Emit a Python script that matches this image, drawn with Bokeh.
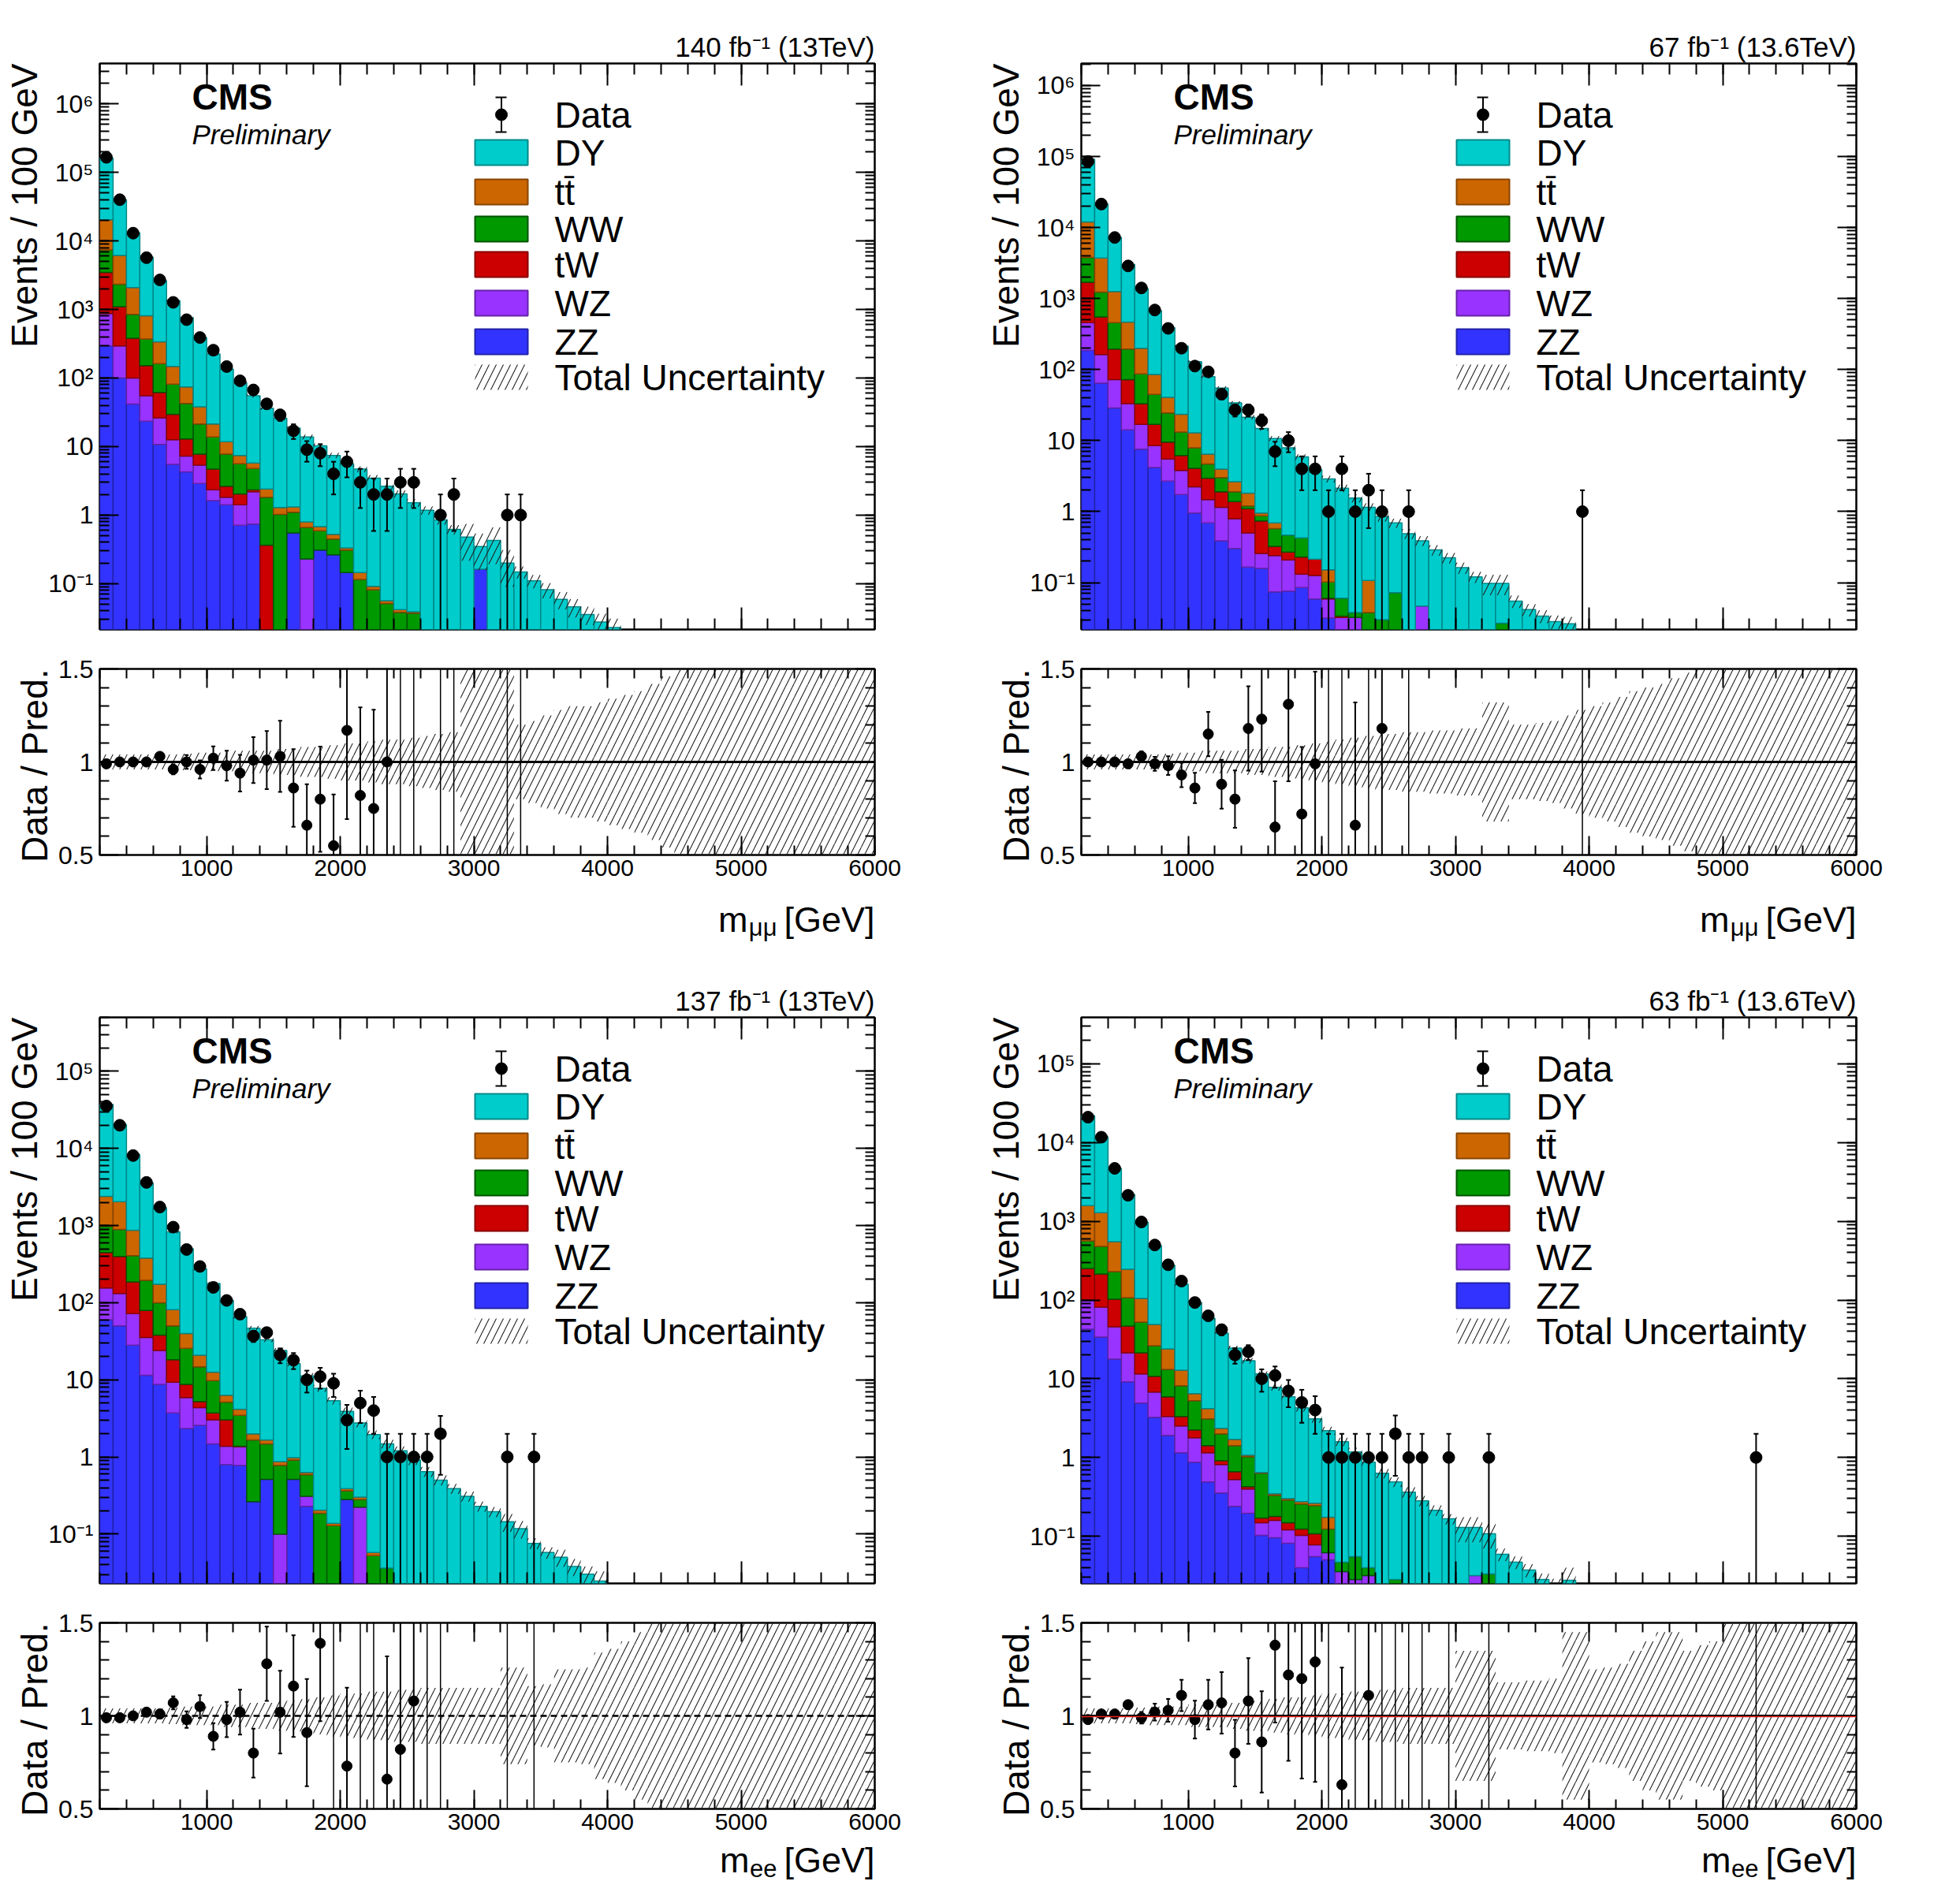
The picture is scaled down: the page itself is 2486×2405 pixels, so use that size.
import math
from bokeh.plotting import figure
from bokeh.layouts import column, row
from bokeh.models import (Range1d, FixedTicker, LinearAxis, LogAxis, Label, Span, Title,
                          ColumnDataSource, CustomJSTickFormatter)
from bokeh.embed import file_html
from bokeh.resources import INLINE

# ---------------- data ----------------
bin_lo = list(range(200, 6000, 100))   # 100 GeV bins, 200-6000 GeV
NB = len(bin_lo)

# stacked totals, log10(events/100 GeV); order ZZ, WZ, tW, WW, ttbar, DY ; None = process absent
mm13_zz = [2.47,2.0,1.62,1.37,1.03,0.74,0.63,0.46,0.21,0.15,-0.15,-0.13,None,None,-0.26,None,-0.51,-0.58,-0.84,None,None,None,None,None,None,None,None,None,-0.79]
mm13_wz = [2.94,2.47,2.0,1.74,1.42,1.10,0.86,0.73,0.37,0.26,0.15,0.34,None,None,None,-0.64]
mm13_tw = [3.54,3.04,2.58,2.18,1.79,1.47,1.11,0.89,0.67,0.42,0.31,0.37,-0.44]
mm13_ww = [3.87,3.37,2.93,2.57,2.21,1.91,1.63,1.33,1.14,0.89,0.75,0.68,0.26,0.01,0.04,-0.18,-0.23,-0.35,-0.51,-0.94,-1.09,-1.29,-1.42,-1.43]
mm13_tt = [4.31,3.79,3.32,2.91,2.53,2.17,1.87,1.58,1.33,1.07,0.87,0.76,0.38,0.11,0.12,-0.10,-0.17,-0.28,-0.48,-0.84,-1.04,-1.25,-1.38,-1.41]
mm13_dy = [5.21,4.60,4.12,3.76,3.42,3.13,2.88,2.59,2.35,2.13,1.93,1.74,1.56,1.41,1.27,1.14,1.01,0.87,0.75,0.67,0.54,0.42,0.31,0.18,0.07,-0.07,-0.21,-0.32,-0.46,-0.37,-0.70,-0.83,-0.96,-1.09,-1.23,-1.34,-1.45,-1.56,-1.64]
mm13_data = [166000,40000,13000,5700,2700,1270,710,390,255,147,91,67,42,29,17,9,8,4,6,3,2,2,3,3,0,1,2,0,0,0,1,1]
mm13_ratio = [0.99,1.0,1.0,1.0,1.03,0.96,1.0,0.96,1.02,0.98,0.94,1.01,1.01,1.03,0.86,0.66,0.80,0.55,1.17,0.82,0.75,1.0]
mm13_unc = [0.04,0.04,0.04,0.04,0.04,0.04,0.045,0.05,0.05,0.05,0.06,0.06,0.06,0.07,0.07,0.08,0.08,0.09,0.10,0.10,
            0.11,0.12,0.12,0.13,0.14,0.15,0.16,0.55,0.55,0.55,0.55,0.20,0.22,0.25,0.28,0.30,0.30,0.32,0.34,0.36,
            0.38,0.42,0.46,0.50,0.55,0.55,0.55,0.55,0.55,0.55,0.55,0.55,0.55,0.55,0.55,0.55,0.55,0.55]

mm136_zz = [2.27,1.81,1.46,1.15,0.88,0.62,0.43,0.24,-0.02,-0.16,-0.41,-0.52,-0.78,-0.80,-1.13,-1.12,-1.07,-1.23,-1.50]
mm136_wz = [2.66,2.21,1.86,1.52,1.23,0.93,0.74,0.58,0.35,0.17,0.06,-0.10,-0.30,-0.59,-0.62,-0.68,-0.88,-0.90,-1.23,-1.49,-1.49,None,None,None,None,-1.33]
mm136_tw = [3.23,2.74,2.29,1.86,1.52,1.23,0.98,0.79,0.61,0.47,0.28,0.14,0.04,-0.13,-0.49,-0.57,-0.64,-0.67,-1.22,-1.47]
mm136_ww = [3.58,3.09,2.66,2.29,1.94,1.65,1.39,1.12,0.90,0.67,0.48,0.28,0.08,-0.06,-0.24,-0.33,-0.37,-0.69,-0.99,-1.22,-1.42,-1.42,-1.52,-1.14,None,None,None,None,None,None,None,-1.57]
mm136_tt = [4.08,3.57,3.10,2.67,2.30,1.93,1.61,1.37,1.11,0.81,0.60,0.42,0.26,-0.02,-0.16,-0.39,-0.41,-0.68,-0.82,None,None,-0.97]
mm136_dy = [4.96,4.33,3.86,3.48,3.14,2.83,2.59,2.33,2.11,1.90,1.74,1.53,1.33,1.17,1.03,0.90,0.77,0.59,0.46,0.33,0.19,0.06,-0.07,-0.16,-0.31,-0.41,-0.54,-0.65,-0.79,-0.92,-1.01,-1.01,-1.26,-1.38,-1.47,-1.55,-1.58]
mm136_data = [85000,21400,7240,2880,1410,690,380,200,112,93,45,27,27,19,7,10,4,4,1,4,1,2,1,0,1,0,0,0,0,0,0,0,0,0,0,0,0,1]
mm136_ratio = [1.0,1.0,1.0,0.99,1.03,0.99,0.98,0.93,0.86,1.15,0.88,0.80,1.18,1.23,0.65,1.31,0.72,0.99,None,None,0.66,None,1.18]
mm136_unc = [0.04,0.04,0.04,0.04,0.04,0.04,0.045,0.05,0.05,0.06,0.06,0.06,0.07,0.07,0.08,0.08,0.09,0.10,0.11,0.12,
             0.13,0.14,0.15,0.15,0.16,0.16,0.17,0.17,0.18,0.18,0.32,0.32,0.20,0.20,0.21,0.22,0.25,0.28,0.30,0.32,
             0.35,0.38,0.40,0.42,0.45,0.48,0.50,0.55,0.55,0.55,0.55,0.55,0.55,0.55,0.55,0.55,0.55,0.55]

ee13_zz = [1.78,1.70,1.45,1.06,0.94,0.57,0.37,0.41,0.17,-0.10,-0.11,-0.58,-0.29,None,-0.29,-0.64,None,None,-0.55]
ee13_wz = [2.19,2.12,1.86,1.55,1.38,0.97,0.77,0.64,0.48,0.14,0.13,None,None,-1.0,None,-0.51,None,None,None,-0.65]
ee13_tw = [2.65,2.60,2.27,1.90,1.58,1.26,0.94,0.72,0.57,0.48,0.14]
ee13_ww = [2.99,2.95,2.61,2.29,2.0,1.70,1.41,1.17,0.99,0.71,0.54,0.22,0.17,-0.11,-0.04,-0.23,-0.73,-0.89,-0.44,-0.55,-1.28,-1.44]
ee13_tt = [3.38,3.31,2.94,2.58,2.24,1.91,1.60,1.32,1.10,0.80,0.62,0.30,0.22,-0.06,-0.01,-0.20,-0.69,-0.86,-0.41,-0.52,-1.24]
ee13_dy = [4.57,4.31,3.92,3.55,3.23,2.92,2.70,2.44,2.25,2.03,1.82,1.67,1.52,1.38,1.21,1.05,0.89,0.73,0.59,0.44,0.29,0.17,0.08,-0.04,-0.19,-0.30,-0.41,-0.51,-0.64,-0.71,-0.84,-0.93,-1.12,-1.24,-1.30,-1.42,-1.52,-1.61]
ee13_data = [35500,20000,8100,3630,1740,955,490,295,158,107,71,37,41,21,18,10,11,9,3,5,4,1,1,1,1,2,0,0,0,0,1,0,1]
ee13_ratio = [0.99,0.99,1.0,1.02,1.01,1.07,0.98,1.05,0.89,0.98,1.02,0.80,1.28,1.02,1.16,0.91,1.39,None,0.73,None,None,0.66,0.82,1.08]
ee13_unc = [0.04,0.04,0.04,0.04,0.04,0.045,0.05,0.05,0.05,0.06,0.06,0.07,0.07,0.08,0.08,0.09,0.10,0.11,0.12,0.12,
            0.13,0.13,0.14,0.14,0.15,0.15,0.15,0.15,0.15,0.15,0.26,0.26,0.16,0.17,0.25,0.25,0.26,0.34,0.36,0.40,
            0.45,0.50,0.55,0.55,0.55,0.55,0.55,0.55,0.55,0.55,0.55,0.55,0.55,0.55,0.55,0.55,0.55,0.55]

ee136_zz = [1.63,1.53,1.25,0.96,0.69,0.51,0.28,0.06,-0.06,-0.31,-0.45,-0.62,-0.71,-0.99,-1.02,-1.09,-1.40,-1.26,-1.30]
ee136_wz = [2.0,1.91,1.66,1.33,1.06,0.83,0.52,0.40,0.25,0.06,-0.09,-0.28,-0.40,-0.83,-0.80,-0.92,-0.99,-1.11,-1.21,-1.45,-1.55,-1.50,None,None,None,None,None,None,None,-1.50]
ee136_tw = [2.40,2.33,2.01,1.67,1.33,1.03,0.77,0.52,0.35,0.15,-0.04,-0.18,-0.37,-0.77,-0.75,-0.83,-0.91,-0.97]
ee136_ww = [2.75,2.68,2.36,2.03,1.72,1.42,1.12,0.91,0.72,0.49,0.30,0.15,0.01,-0.20,-0.48,-0.54,-0.59,-0.61,-0.91,-1.33,-1.26,-1.40,None,-1.55,None,None,None,None,None,None,-1.48]
ee136_tt = [3.20,3.11,2.74,2.39,2.02,1.69,1.38,1.11,0.81,0.62,0.37,0.23,0.03,-0.19,-0.46,-0.52,-0.56,-0.58,-0.76]
ee136_dy = [4.34,4.07,3.67,3.34,2.99,2.69,2.44,2.20,1.97,1.77,1.58,1.39,1.23,1.06,0.89,0.77,0.63,0.49,0.34,0.20,0.07,-0.06,-0.20,-0.31,-0.44,-0.55,-0.67,-0.78,-0.89,-0.89,-0.97,-1.23,-1.33,-1.43,-1.55,-1.62,-1.56]
ee136_data = [21000,11700,4700,2140,980,500,280,174,93,63,42,20,22,10,11,7,5,4,1,1,1,1,1,2,1,1,0,1,0,0,1,
              0,0,0,0,0,0,0,0,0,0,0,0,0,0,0,0,0,0,0,1]
ee136_ratio = [0.98,1.01,1.01,1.06,0.99,1.02,1.03,1.11,0.98,1.06,1.07,0.80,1.08,0.86,1.38,1.22,1.20,1.29,None,0.63,None,1.11]
ee136_unc = [0.04,0.04,0.04,0.04,0.045,0.05,0.05,0.05,0.06,0.06,0.06,0.07,0.08,0.08,0.09,0.10,0.10,0.11,0.12,0.12,
             0.13,0.13,0.14,0.14,0.15,0.15,0.15,0.15,0.35,0.35,0.35,0.18,0.18,0.19,0.19,0.20,0.45,0.45,0.25,0.26,
             0.28,0.35,0.40,0.45,0.45,0.35,0.38,0.40,0.55,0.55,0.55,0.55,0.55,0.55,0.55,0.55,0.55,0.55]

proc_names = ["ZZ", "WZ", "tW", "WW", "tt\u0304", "DY"]
proc_fill = ["#3333FF", "#9933FF", "#CC0000", "#009900", "#CC6600", "#00CCCC"]
proc_line = ["#2222AA", "#6622AA", "#880000", "#005500", "#884400", "#008888"]
legend_order = ["DY", "tt\u0304", "WW", "tW", "WZ", "ZZ"]

FONT = "Liberation Sans"
FW, FH = 983, 718      # main frame
RH = 236               # ratio frame height
LB = 125               # left border
FLOOR = 1e-4
HATCH = dict(hatch_pattern="/", hatch_color="#222222", hatch_scale=18, hatch_weight=1.1)
SUP = str.maketrans("-0123456789", "\u207b\u2070\u00b9\u00b2\u00b3\u2074\u2075\u2076\u2077\u2078\u2079")


def getv(lst, i):
    return lst[i] if i < len(lst) else None


def style_axis(ax, tick_in, minor_in, label_size):
    ax.major_tick_in = tick_in
    ax.major_tick_out = 0
    ax.minor_tick_in = minor_in
    ax.minor_tick_out = 0
    ax.major_tick_line_width = 2
    ax.minor_tick_line_width = 2
    ax.axis_line_color = None
    ax.major_label_text_font = FONT
    ax.major_label_text_color = "black"
    if label_size is None:
        ax.formatter = CustomJSTickFormatter(code="return ''")
        ax.major_label_text_font_size = "10px"
        ax.major_label_standoff = 0
    else:
        ax.major_label_text_font_size = label_size


def side_title(fig, text):
    fig.add_layout(Title(text=text, align="right", text_font=FONT, text_font_size="46px",
                         text_font_style="normal", text_color="black", standoff=4), "left")


def panel(levels, data, ratio, unc, ylo, yhi, lumi, chan, line_style, right_border, ratio_bb, strip_h, title_y):
    xr = Range1d(200, 6000)
    edges_l = bin_lo
    edges_r = [b + 100 for b in bin_lo]
    centers = [b + 50 for b in bin_lo]

    def fxd(px):      # frame pixel (from left) -> data x
        return 200 + px / FW * 5800

    def fyd(py):      # frame pixel (from top) -> data y (log)
        return 10 ** (yhi - py / FH * (yhi - ylo))

    # ---------- main ----------
    p = figure(frame_width=FW, frame_height=FH, x_range=xr, y_range=Range1d(10 ** ylo, 10 ** yhi),
               y_axis_type="log", output_backend="svg", toolbar_location=None,
               min_border_left=LB, min_border_right=right_border, min_border_top=80, min_border_bottom=20)
    p.grid.visible = False
    p.outline_line_color = "black"
    p.outline_line_width = 2.5
    p.title.text = lumi
    p.title.align = "right"
    p.title.text_font = FONT
    p.title.text_font_size = "35px"
    p.title.text_font_style = "normal"
    p.title.text_color = "black"
    p.title.standoff = 4

    cum = [FLOOR] * NB
    for name, lev, fc, lc in zip(proc_names, levels, proc_fill, proc_line):
        L, R, B, T = [], [], [], []
        for i in range(NB):
            e = getv(lev, i)
            if e is None:
                continue
            top = 10 ** e
            if top <= cum[i]:
                continue
            L.append(edges_l[i]); R.append(edges_r[i]); B.append(cum[i]); T.append(top)
            cum[i] = top
        src = ColumnDataSource(dict(left=L, right=R, bottom=B, top=T))
        p.quad(left="left", right="right", bottom="bottom", top="top", source=src,
               fill_color=fc, line_color=lc, line_width=1.5)

    hl, hr, hb, ht = [], [], [], []
    for i in range(NB):
        if cum[i] > FLOOR:
            u = unc[i]
            hl.append(edges_l[i]); hr.append(edges_r[i])
            hb.append(cum[i] * max(1 - u, 0.01)); ht.append(cum[i] * (1 + u))
    p.quad(left=hl, right=hr, bottom=hb, top=ht, fill_alpha=0, line_alpha=0, **HATCH)

    dx, dy_, lo, hi = [], [], [], []
    for i in range(NB):
        n = getv(data, i) or 0
        if n > 0:
            s = math.sqrt(n)
            dx.append(centers[i]); dy_.append(n)
            lo.append(n - s if n - s > 0 else FLOOR); hi.append(n + s)
    p.segment(x0=dx, y0=lo, x1=dx, y1=hi, line_color="black", line_width=2)
    cx = [x for x, l in zip(dx, lo) if l > FLOOR]
    cl = [l for l in lo if l > FLOOR]
    p.segment(x0=[x - 18 for x in dx], y0=hi, x1=[x + 18 for x in dx], y1=hi, line_color="black", line_width=2)
    p.segment(x0=[x - 18 for x in cx], y0=cl, x1=[x + 18 for x in cx], y1=cl, line_color="black", line_width=2)
    p.scatter(dx, dy_, size=15, color="black")

    major_y = [float(10 ** n) for n in range(-1, 7)]
    minor_y = [k * 10.0 ** n for n in range(-3, 8) for k in range(1, 10)]
    yt = FixedTicker(ticks=major_y, minor_ticks=minor_y)
    ylabels = {}
    for n in range(-1, 7):
        ylabels[float(10 ** n)] = "1" if n == 0 else ("10" if n == 1 else "10" + str(n).translate(SUP))
    xt = FixedTicker(ticks=[1000, 2000, 3000, 4000, 5000, 6000], minor_ticks=list(range(200, 6001, 200)))
    p.yaxis.ticker = yt
    p.yaxis.major_label_overrides = ylabels
    style_axis(p.yaxis[0], 24, 12, "32px")
    p.yaxis.major_label_standoff = 8
    p.xaxis.ticker = xt
    style_axis(p.xaxis[0], 28, 14, None)
    ra = LogAxis(ticker=yt)
    style_axis(ra, 24, 12, None)
    p.add_layout(ra, "right")
    ta = LinearAxis(ticker=xt)
    style_axis(ta, 28, 14, None)
    p.add_layout(ta, "above")
    side_title(p, "Events / 100 GeV")

    p.add_layout(Label(x=117, y=FH - 16, x_units="screen", y_units="screen", text="CMS", text_color="black",
                       text_font=FONT, text_font_style="bold", text_font_size="46px", text_baseline="top"))
    p.add_layout(Label(x=117, y=FH - 70, x_units="screen", y_units="screen", text="Preliminary",
                       text_color="black", text_font=FONT, text_font_style="italic", text_font_size="35px",
                       text_baseline="top"))

    # legend drawn inside the frame
    rows_y = [65, 113, 163, 210, 255, 304, 353, 398]
    bx0, bx1, tx = 476, 543, 577
    mx = fxd((bx0 + bx1) / 2)
    y0 = rows_y[0]
    p.segment(x0=[mx], y0=[fyd(y0 + 22)], x1=[mx], y1=[fyd(y0 - 22)], line_color="black", line_width=2)
    p.segment(x0=[fxd(502), fxd(502)], y0=[fyd(y0 - 22), fyd(y0 + 22)], x1=[fxd(516), fxd(516)],
              y1=[fyd(y0 - 22), fyd(y0 + 22)], line_color="black", line_width=2)
    p.scatter([mx], [fyd(y0)], size=15, color="black")
    for k, nm in enumerate(legend_order):
        j = proc_names.index(nm)
        yc = rows_y[k + 1]
        p.quad(left=[fxd(bx0)], right=[fxd(bx1)], bottom=[fyd(yc + 16)], top=[fyd(yc - 16)],
               fill_color=proc_fill[j], line_color=proc_line[j], line_width=2)
    yc = rows_y[7]
    p.quad(left=[fxd(bx0)], right=[fxd(bx1)], bottom=[fyd(yc + 16)], top=[fyd(yc - 16)],
           fill_alpha=0, line_alpha=0, **HATCH)
    labels = ["Data"] + legend_order + ["Total Uncertainty"]
    for lab, yc in zip(labels, rows_y):
        p.add_layout(Label(x=tx, y=FH - yc, x_units="screen", y_units="screen", text=lab,
                           text_color="black", text_font=FONT, text_font_size="46px",
                           text_baseline="middle"))

    # ---------- ratio ----------
    r = figure(frame_width=FW, frame_height=RH, x_range=xr, y_range=Range1d(0.5, 1.5),
               output_backend="svg", toolbar_location=None,
               min_border_left=LB, min_border_right=right_border, min_border_top=30,
               min_border_bottom=ratio_bb)
    r.grid.visible = False
    r.outline_line_color = "black"
    r.outline_line_width = 2.5
    r.quad(left=edges_l, right=edges_r, bottom=[1 - unc[i] for i in range(NB)],
           top=[1 + unc[i] for i in range(NB)], fill_alpha=0, line_alpha=0, **HATCH)
    if line_style == "dashed":
        r.add_layout(Span(location=1, dimension="width", line_color="black", line_width=2.5, line_dash="8 5"))
    else:
        r.add_layout(Span(location=1, dimension="width", line_color="black", line_width=3))
        if line_style == "red":
            r.add_layout(Span(location=0.996, dimension="width", line_color="#ee2222", line_width=1.5))
    px, py, plo, phi, fx = [], [], [], [], []
    for i in range(NB):
        n = getv(data, i) or 0
        if n <= 0:
            continue
        rv = getv(ratio, i)
        if rv is None:
            fx.append(centers[i])
        else:
            e = rv / math.sqrt(n)
            px.append(centers[i]); py.append(rv); plo.append(rv - e); phi.append(rv + e)
    r.segment(x0=fx, y0=[0.4] * len(fx), x1=fx, y1=[1.6] * len(fx), line_color="black", line_width=1.5)
    r.segment(x0=px, y0=plo, x1=px, y1=phi, line_color="black", line_width=2)
    r.segment(x0=[x - 15 for x in px], y0=phi, x1=[x + 15 for x in px], y1=phi, line_color="black", line_width=2)
    r.segment(x0=[x - 15 for x in px], y0=plo, x1=[x + 15 for x in px], y1=plo, line_color="black", line_width=2)
    r.scatter(px, py, size=13, color="black")

    rxt = FixedTicker(ticks=[1000, 2000, 3000, 4000, 5000, 6000], minor_ticks=list(range(200, 6001, 200)))
    ryt = FixedTicker(ticks=[0.5, 1.0, 1.5], minor_ticks=[0.6, 0.7, 0.8, 0.9, 1.1, 1.2, 1.3, 1.4])
    r.xaxis.ticker = rxt
    style_axis(r.xaxis[0], 24, 12, "30px")
    r.xaxis.major_label_standoff = 6
    r.yaxis.ticker = ryt
    r.yaxis.major_label_overrides = {0.5: "0.5", 1.0: "1", 1.5: "1.5"}
    style_axis(r.yaxis[0], 24, 12, "32px")
    r.yaxis.major_label_standoff = 8
    rra = LinearAxis(ticker=ryt)
    style_axis(rra, 24, 12, None)
    r.add_layout(rra, "right")
    rta = LinearAxis(ticker=rxt)
    style_axis(rta, 24, 12, None)
    r.add_layout(rta, "above")
    side_title(r, "Data / Pred.")

    # ---------- x-axis title strip ----------
    s = figure(frame_width=FW, frame_height=strip_h, x_range=Range1d(0, FW), y_range=Range1d(0, strip_h),
               output_backend="svg", toolbar_location=None, x_axis_location=None, y_axis_location=None,
               min_border_left=LB, min_border_right=right_border, min_border_top=0, min_border_bottom=0)
    s.grid.visible = False
    s.outline_line_color = None
    yc = title_y
    s.add_layout(Label(x=FW, y=yc, text="[GeV]", text_align="right", text_baseline="middle",
                       text_color="black", text_font=FONT, text_font_size="45px"))
    s.add_layout(Label(x=FW - 124, y=yc - 10, text=chan, text_align="right", text_baseline="middle",
                       text_color="black", text_font=FONT, text_font_size="31px"))
    s.add_layout(Label(x=FW - 124 - (37 if chan == "\u03bc\u03bc" else 35), y=yc, text="m",
                       text_align="right", text_baseline="middle",
                       text_color="black", text_font=FONT, text_font_size="45px"))
    return column(p, r, s, spacing=0)


tl = panel([mm13_zz, mm13_wz, mm13_tw, mm13_ww, mm13_tt, mm13_dy], mm13_data, mm13_ratio, mm13_unc,
           -1.67, 6.59, "140 fb\u207b\u00b9 (13TeV)", "\u03bc\u03bc", "solid", 136, 45, 81, 44)
tr = panel([mm136_zz, mm136_wz, mm136_tw, mm136_ww, mm136_tt, mm136_dy], mm136_data, mm136_ratio, mm136_unc,
           -1.66, 6.31, "67 fb\u207b\u00b9 (13.6TeV)", "\u03bc\u03bc", "solid", 80, 45, 81, 44)
bl = panel([ee13_zz, ee13_wz, ee13_tw, ee13_ww, ee13_tt, ee13_dy], ee13_data, ee13_ratio, ee13_unc,
           -1.64, 5.70, "137 fb\u207b\u00b9 (13TeV)", "ee", "dashed", 136, 38, 55, 28)
br = panel([ee136_zz, ee136_wz, ee136_tw, ee136_ww, ee136_tt, ee136_dy], ee136_data, ee136_ratio, ee136_unc,
           -1.60, 5.59, "63 fb\u207b\u00b9 (13.6TeV)", "ee", "red", 80, 38, 55, 28)

layout = column(row(tl, tr, spacing=0), row(bl, br, spacing=0), spacing=0)
open("out.html", "w").write(file_html(layout, INLINE))
